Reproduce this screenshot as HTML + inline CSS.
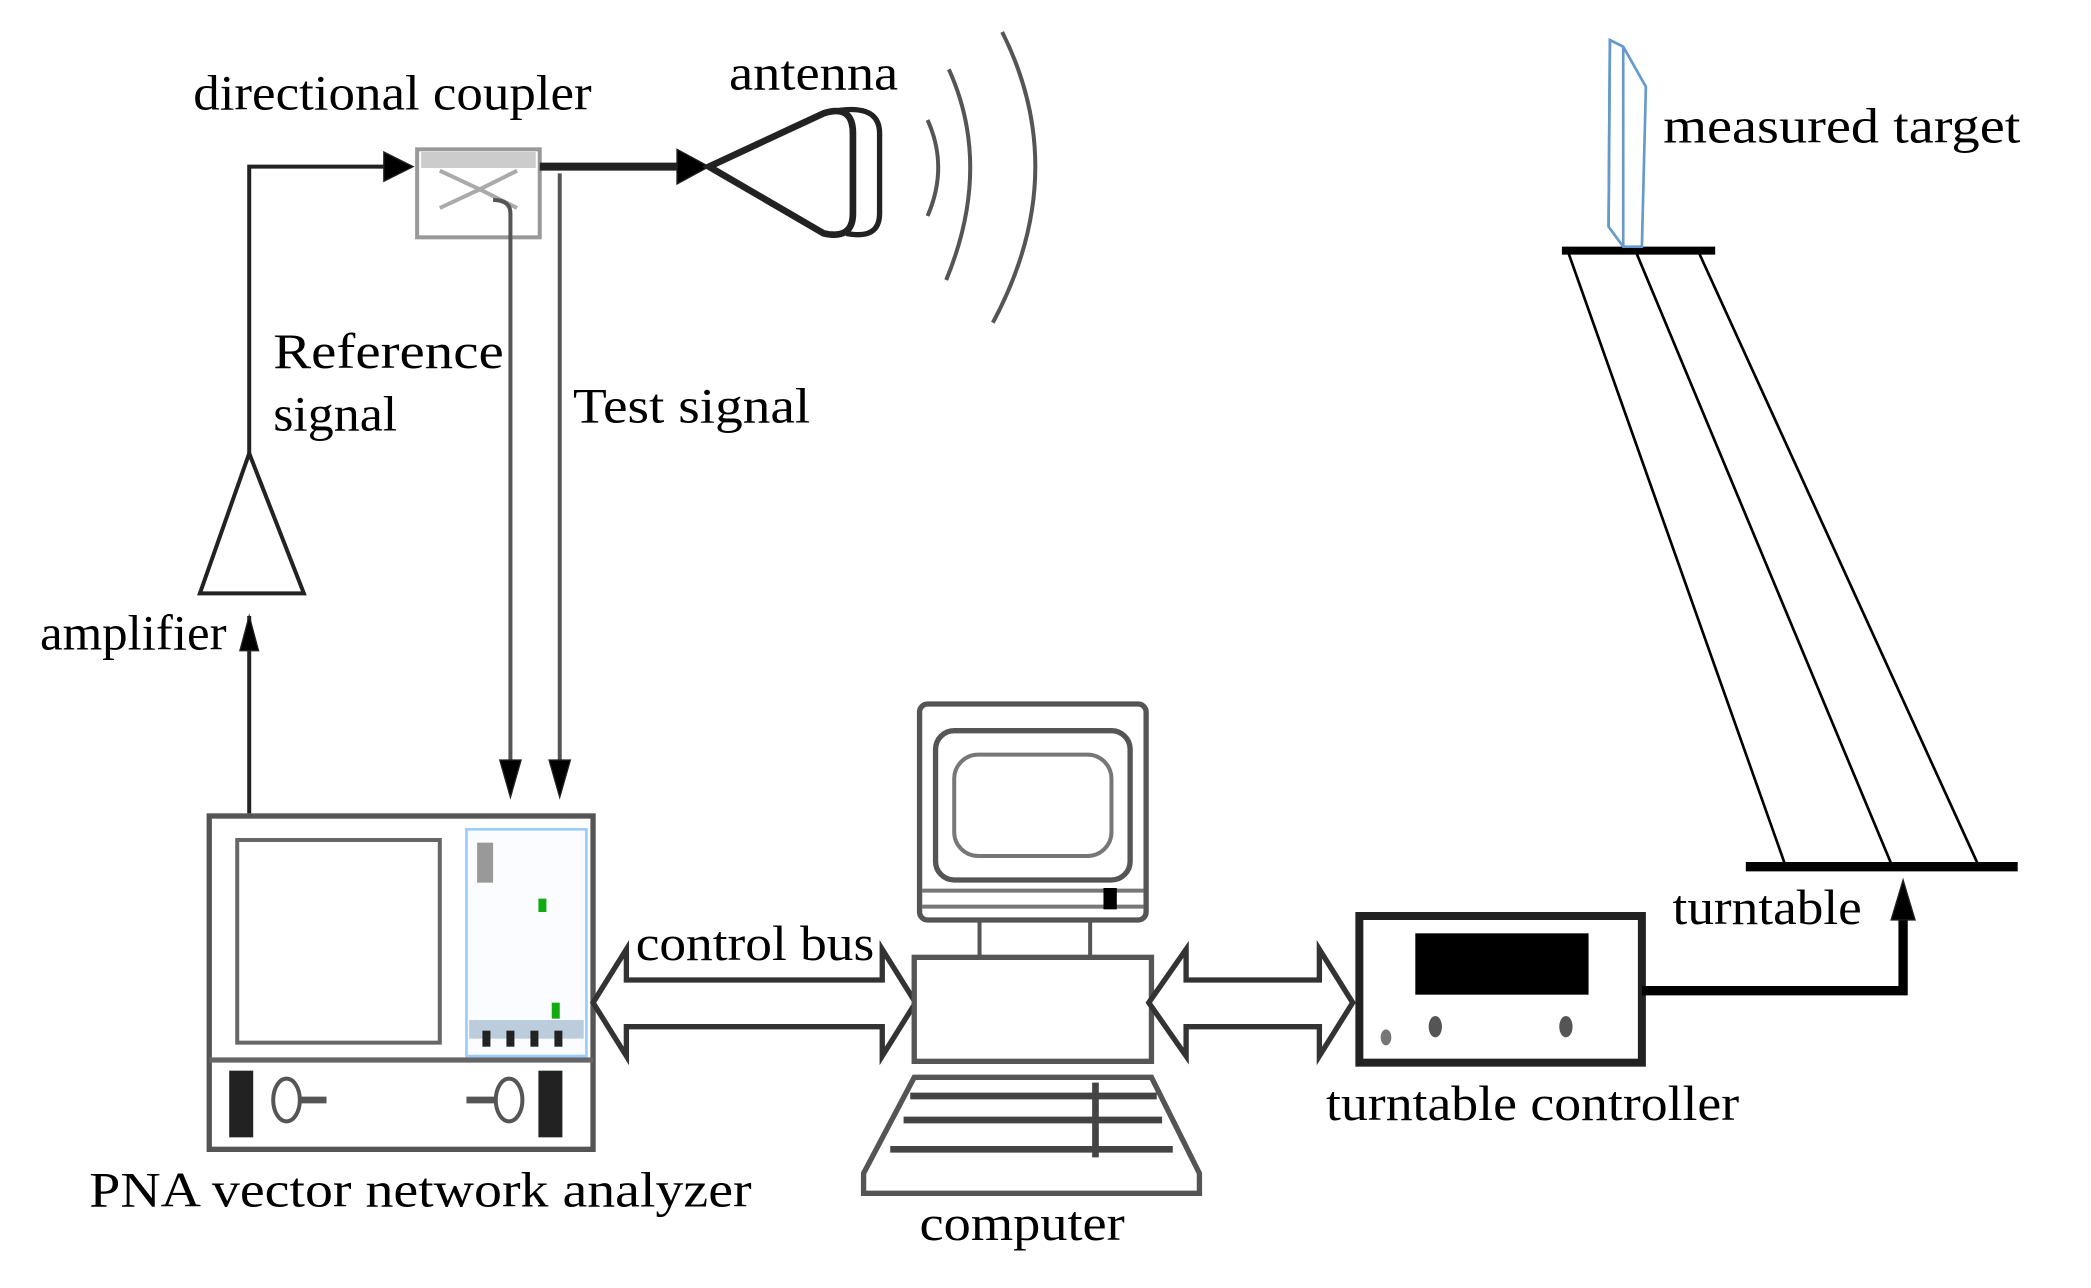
<!DOCTYPE html>
<html><head><meta charset="utf-8"><style>
html,body{margin:0;padding:0;background:#fff;}
svg{display:block;}
text{font-family:"Liberation Serif",serif;font-size:37px;fill:#000;}
</style></head><body>
<svg width="2091" height="1288" viewBox="0 0 1569 966" preserveAspectRatio="none" xmlns="http://www.w3.org/2000/svg">
<g stroke="#222" fill="none">
<path d="M187,610 V462" stroke-width="3"/>
<path d="M180,488 L187,462 L194,488 z" fill="#000"/>
<path d="M187,340 V125 H300" stroke-width="3"/>
<path d="M288,114 L310,125 L288,136 z" fill="#000"/>
<polygon points="187,340 150,445 228,445" stroke-width="3" fill="#fff"/>
<rect x="313" y="112" width="92" height="66" stroke="#999" stroke-width="3" fill="#fff"/>
<rect x="316" y="114" width="86" height="12" fill="#ccc" stroke="none"/>
<path d="M330,128 L360,142 L330,156 M360,142 L388,128 M360,142 L388,156 Z" stroke="#aaa" stroke-width="3"/>
<path d="M405,125 H520" stroke-width="6"/>
<path d="M508,112 L532,125 L508,138 z" fill="#000"/>
<path d="M532,125 L618,85 Q640,78 640,100 L640,160 Q640,180 618,175 Z" stroke-width="5"/>
<path d="M618,85 Q660,75 660,100 L660,160 Q660,180 635,175" stroke-width="4"/>
<path d="M696,90 Q712,125 696,162" stroke="#555" stroke-width="3"/>
<path d="M712,52 Q745,125 710,210" stroke="#555" stroke-width="3"/>
<path d="M752,24 Q805,130 745,242" stroke="#555" stroke-width="3"/>
<path d="M383,160 Q383,150 370,150 M383,160 V595" stroke="#555" stroke-width="3"/>
<path d="M420,130 V595" stroke="#555" stroke-width="3"/>
<path d="M375,570 L383,598 L391,570 z" fill="#000"/>
<path d="M412,570 L420,598 L428,570 z" fill="#000"/>
<rect x="157" y="612" width="288" height="250" stroke="#555" stroke-width="4" fill="#fff"/>
<rect x="178" y="630" width="152" height="152" stroke="#666" stroke-width="3" fill="#fff"/>
<rect x="350" y="622" width="90" height="170" stroke="#9cf" stroke-width="2" fill="#fafcff"/>
<rect x="352" y="765" width="86" height="14" fill="#bcd" stroke="none"/>
<g fill="#222" stroke="none">
<rect x="362" y="773" width="6" height="12"/><rect x="380" y="773" width="6" height="12"/><rect x="398" y="773" width="6" height="12"/><rect x="416" y="773" width="6" height="12"/>
<rect x="358" y="632" width="12" height="30" fill="#999"/><rect x="404" y="674" width="6" height="10" fill="#1a1"/><rect x="414" y="752" width="6" height="12" fill="#1a1"/>
<rect x="172" y="803" width="18" height="50"/><rect x="404" y="803" width="18" height="50"/>
</g>
<path d="M157,795 H445" stroke="#666" stroke-width="4"/>
<ellipse cx="215" cy="825" rx="10" ry="16" stroke="#555" stroke-width="3"/>
<ellipse cx="382" cy="825" rx="10" ry="16" stroke="#555" stroke-width="3"/>
<path d="M225,825 H245 M350,825 H372" stroke="#555" stroke-width="5"/>
<path d="M445,752 L470,712 V735 H662 V712 L687,752 L662,792 V770 H470 V792 Z" stroke="#333" stroke-width="4" fill="#fff"/>
<rect x="690" y="528" width="170" height="162" rx="6" stroke="#555" stroke-width="4" fill="#fff"/>
<rect x="702" y="548" width="146" height="112" rx="14" stroke="#555" stroke-width="4"/>
<rect x="716" y="566" width="118" height="76" rx="18" stroke="#777" stroke-width="3"/>
<path d="M692,668 H858 M692,680 H858" stroke="#777" stroke-width="3"/>
<rect x="828" y="666" width="10" height="16" fill="#000" stroke="none"/>
<path d="M735,690 V718 M818,690 V718" stroke="#555" stroke-width="3"/>
<rect x="686" y="718" width="178" height="78" stroke="#555" stroke-width="4" fill="#fff"/>
<path d="M686,808 H864 L900,880 V895 H648 V880 Z" stroke="#555" stroke-width="4" fill="#fff"/>
<path d="M683,822 H868 M678,840 H872 M668,862 H880 M822,812 V868" stroke="#444" stroke-width="5"/>
<path d="M862,752 L890,712 V735 H990 V712 L1015,752 L990,792 V770 H890 V792 Z" stroke="#333" stroke-width="4" fill="#fff"/>
<rect x="1020" y="687" width="212" height="110" stroke="#222" stroke-width="6" fill="#fff"/>
<rect x="1062" y="700" width="130" height="46" fill="#000" stroke="none"/>
<ellipse cx="1077" cy="770" rx="5" ry="8" fill="#555" stroke="none"/>
<ellipse cx="1175" cy="770" rx="5" ry="8" fill="#555" stroke="none"/>
<ellipse cx="1040" cy="778" rx="4" ry="6" fill="#777" stroke="none"/>
<path d="M1232,743 H1428 V680" stroke="#000" stroke-width="7"/>
<path d="M1419,690 L1428,660 L1437,690 z" fill="#000"/>
<path d="M1310,650 H1514" stroke="#000" stroke-width="7"/>
<path d="M1172,188 H1287" stroke="#000" stroke-width="6"/>
<path d="M1177,190 L1340,650 M1228,190 L1420,650 M1275,190 L1485,650" stroke="#000" stroke-width="2"/>
<path d="M1208,30 L1218,35 L1235,65 L1232,185 L1218,185 L1207,170 Z" stroke="#69c" stroke-width="2" fill="#fff"/>
<path d="M1218,35 L1218,185 M1208,30 L1207,170" stroke="#69c" stroke-width="2"/>
</g>
<g>
<text x="145" y="82" textLength="299" lengthAdjust="spacingAndGlyphs">directional coupler</text>
<text x="547" y="67" textLength="127" lengthAdjust="spacingAndGlyphs">antenna</text>
<text x="1248" y="107" textLength="268" lengthAdjust="spacingAndGlyphs">measured target</text>
<text x="205" y="276" textLength="173" lengthAdjust="spacingAndGlyphs">Reference</text>
<text x="205" y="323" textLength="93" lengthAdjust="spacingAndGlyphs">signal</text>
<text x="430" y="317" textLength="178" lengthAdjust="spacingAndGlyphs">Test signal</text>
<text x="30" y="487" textLength="140" lengthAdjust="spacingAndGlyphs">amplifier</text>
<text x="477" y="720" textLength="179" lengthAdjust="spacingAndGlyphs">control bus</text>
<text x="1255" y="693" textLength="142" lengthAdjust="spacingAndGlyphs">turntable</text>
<text x="995" y="840" textLength="310" lengthAdjust="spacingAndGlyphs">turntable controller</text>
<text x="67" y="905" textLength="497" lengthAdjust="spacingAndGlyphs">PNA vector network analyzer</text>
<text x="690" y="930" textLength="154" lengthAdjust="spacingAndGlyphs">computer</text>
</g>
</svg>
</body></html>
